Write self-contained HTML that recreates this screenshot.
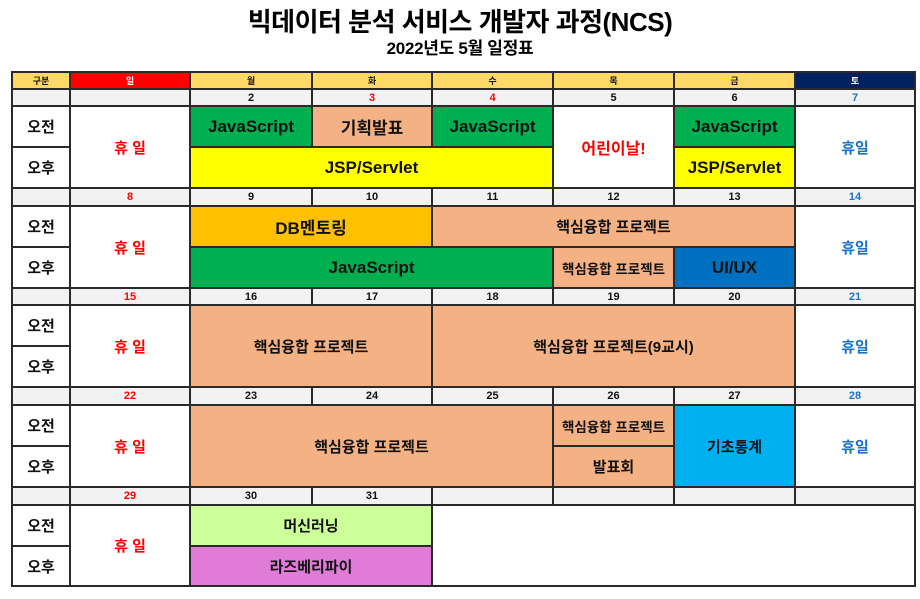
<!DOCTYPE html>
<html><head><meta charset="utf-8"><style>
body{margin:0;width:920px;height:599px;background:#fff;position:relative;overflow:hidden;font-family:"Liberation Sans","Noto Sans CJK KR",sans-serif;}
.c{position:absolute;box-sizing:border-box;border:2px solid #2a2a2a;display:flex;align-items:center;justify-content:center;font-weight:bold;color:#111;text-align:center;white-space:nowrap;}
.t{position:absolute;left:0;width:920px;text-align:center;font-weight:bold;color:#000;}
</style></head><body>
<div class="t" style="top:2px;font-size:26px;letter-spacing:-0.5px;">빅데이터 분석 서비스 개발자 과정(NCS)</div>
<div class="t" style="top:34px;font-size:17px;letter-spacing:-0.3px;">2022년도 5월 일정표</div>
<div id="g"></div>
<script>
var X=[12,70,190,312,432,553,674,795,915];
var headers=['구분','일','월','화','수','목','금','토'];
var blocks=[[72,89],[89,106,147,188],[188,206,247,288],[288,305,346,387],[387,405,446,487],[487,505,546,586]];
var dates=[['','','2','3','4','5','6','7'],['','8','9','10','11','12','13','14'],['','15','16','17','18','19','20','21'],['','22','23','24','25','26','27','28'],['','29','30','31','','','','']];
var redDates=['3','4','8','15','22','29'];
var blueDates=['7','14','21','28'];
var G='#00B050',S='#F4B183',Y='#FFFF00',O='#FFC000',B='#0070C0',LB='#00B0F0',L='#CCFF99',P='#E07CD8';
var g=document.getElementById('g');
function cell(x1,x2,y1,y2,bg,txt,col,fs,name){
  var d=document.createElement('div');d.className='c';
  d.style.left=(x1-1)+'px';d.style.top=(y1-1)+'px';d.style.width=(x2-x1+2)+'px';d.style.height=(y2-y1+2)+'px';
  d.style.background=bg;d.style.color=col||'#111';d.style.fontSize=(fs||15)+'px';d.textContent=txt;
  
  
  g.appendChild(d);return d;
}
var hb=['#FFD966','#FF0000','#FFD966','#FFD966','#FFD966','#FFD966','#FFD966','#002060'];
var hc=['#111','#fff','#111','#111','#111','#111','#111','#fff'];
for(var i=0;i<8;i++)cell(X[i],X[i+1],72,89,hb[i],headers[i],hc[i],9,'header-'+i);
for(var b=1;b<=5;b++){
  var r=blocks[b];
  for(var i=0;i<8;i++){var dt=dates[b-1][i];var col=redDates.indexOf(dt)>=0?'#f00':(blueDates.indexOf(dt)>=0?'#1a73c8':'#111');
    cell(X[i],X[i+1],r[0],r[1],'#F2F2F2',dt,col,11,'date-cell');}
  cell(X[0],X[1],r[1],r[2],'#fff','오전','#111',15,'am-label');
  cell(X[0],X[1],r[2],r[3],'#fff','오후','#111',15,'pm-label');
  cell(X[1],X[2],r[1],r[3],'#fff','휴 일','#f00',15,'sunday-holiday');
  if(b<5)cell(X[7],X[8],r[1],r[3],'#fff','휴일','#1a73c8',15,'saturday-holiday');
}
var ev=[
[2,3,1,1,G,'JavaScript'],[3,4,1,1,S,'기획발표'],[4,5,1,1,G,'JavaScript'],[5,6,1,2,'#fff','어린이날!','#f00',16],[6,7,1,1,G,'JavaScript'],
[2,5,2,2,Y,'JSP/Servlet'],[6,7,2,2,Y,'JSP/Servlet'],
[2,4,3,3,O,'DB멘토링'],[4,7,3,3,S,'핵심융합 프로젝트',null,15],[2,5,4,4,G,'JavaScript'],[5,6,4,4,S,'핵심융합 프로젝트',null,13.5],[6,7,4,4,B,'UI/UX'],
[2,4,5,6,S,'핵심융합 프로젝트',null,15],[4,7,5,6,S,'핵심융합 프로젝트(9교시)',null,15],
[2,5,7,8,S,'핵심융합 프로젝트',null,15],[5,6,7,7,S,'핵심융합 프로젝트',null,13.5],[5,6,8,8,S,'발표회',null,15],[6,7,7,8,LB,'기초통계',null,15],
[2,4,9,9,L,'머신러닝',null,15],[2,4,10,10,P,'라즈베리파이',null,15],[4,8,9,10,'#fff','']
];
var rowY=[];for(var b=1;b<=5;b++){rowY.push([blocks[b][1],blocks[b][2]]);rowY.push([blocks[b][2],blocks[b][3]]);}
ev.forEach(function(e){
  var y1=rowY[e[2]-1][0],y2=rowY[e[3]-1][1];
  cell(X[e[0]],X[e[1]],y1,y2,e[4],e[5],e[6]||'#111',e[7]||17,'event-cell');
});
</script>
</body></html>
